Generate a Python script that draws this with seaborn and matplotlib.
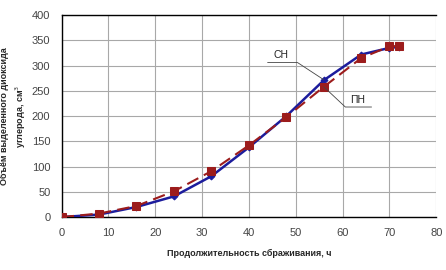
import matplotlib
matplotlib.use("Agg")
import matplotlib.pyplot as plt
import seaborn as sns
import pandas as pd

hours = [0, 8, 16, 24, 32, 40, 48, 56, 64, 70, 72]
sn_values = [0, 5, 20, 41, 81, 138, 200, 271, 322, 335, 337]
pn_values = [0, 7, 22, 51, 91, 142, 198, 258, 315, 338, 339]
xticks = [0, 10, 20, 30, 40, 50, 60, 70, 80]
yticks = [0, 50, 100, 150, 200, 250, 300, 350, 400]

sns.set_style("white")
plt.rcParams['font.family'] = ['Liberation Sans', 'DejaVu Sans']

df_sn = pd.DataFrame({"t": hours, "v": sn_values})
df_pn = pd.DataFrame({"t": hours, "v": pn_values})

fig = plt.figure(figsize=(4.46, 2.70), dpi=100)
ax = fig.add_axes([0.138, 0.196, 0.84, 0.748])

sns.lineplot(data=df_sn, x="t", y="v", ax=ax, color="#1c1c9c", lw=1.8,
             marker="D", markersize=3.5, markeredgecolor="#1c1c9c", zorder=3)
sns.lineplot(data=df_pn, x="t", y="v", ax=ax, color="#9c1c1c", lw=1.5,
             linestyle=(0, (6, 3)), marker="s", markersize=5.5,
             markeredgecolor="#9c1c1c", zorder=4)

ax.set_xlim(0, 80)
ax.set_ylim(0, 400)
ax.set_xticks(xticks)
ax.set_yticks(yticks)
ax.grid(True, color="#a8a8a8", lw=0.8)
ax.set_axisbelow(True)
for s in ["left", "bottom", "top"]:
    ax.spines[s].set_color("black")
    ax.spines[s].set_linewidth(1.0)
ax.spines["right"].set_visible(False)
ax.tick_params(axis="both", labelsize=8, labelcolor="#444444", length=3,
               direction="out", width=0.8, pad=5, color="black")

ax.set_xlabel("Продолжительность сбраживания, ч", fontsize=6.5,
              fontweight="bold", labelpad=8)
ax.set_ylabel("Объём выделенного диоксида\nуглерода, см$^3$", fontsize=6.5,
              fontweight="bold", labelpad=3, linespacing=1.4)

# annotations
lc = "#444444"
ax.text(46.9, 321, "СН", fontsize=7.5, ha="center", va="center", color="#222222")
ax.plot([44.0, 50.4, 56.0], [306, 306, 272], color=lc, lw=0.6, zorder=5)
ax.text(63.3, 232, "ПН", fontsize=7.5, ha="center", va="center", color="#222222")
ax.plot([66.2, 60.6, 56.0], [218, 218, 258], color=lc, lw=0.6, zorder=5)

fig.savefig("out.png", dpi=100)
